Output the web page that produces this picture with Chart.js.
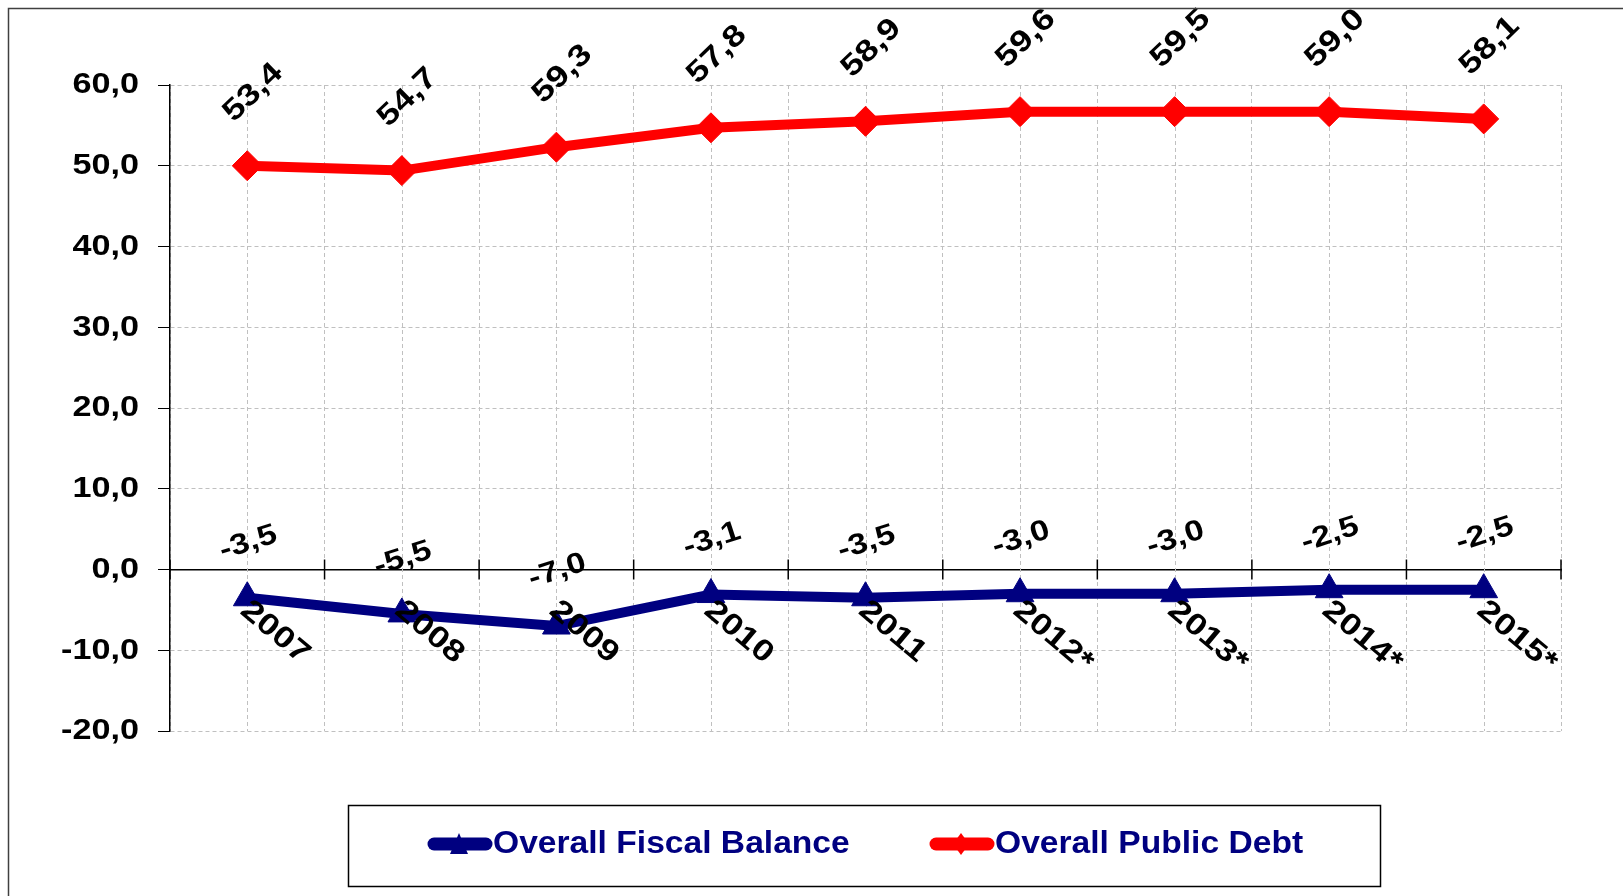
<!DOCTYPE html>
<html>
<head>
<meta charset="utf-8">
<script src="https://cdn.jsdelivr.net/npm/chart.js@4"></script>
<style>
  html, body { margin: 0; padding: 0; background: #fff; }
  #wrap { width: 1623px; height: 896px; position: relative; }
</style>
</head>
<body>
<div id="wrap"><canvas id="fiscalChart"></canvas></div>
<script>
const years = ['2007', '2008', '2009', '2010', '2011', '2012*', '2013*', '2014*', '2015*'];
const fiscalBalance = [-3.5, -5.5, -7.0, -3.1, -3.5, -3.0, -3.0, -2.5, -2.5];
// debt markers sit lower than their printed labels in the original, keep both
const publicDebt = [50.0, 49.4, 52.3, 54.7, 55.5, 56.7, 56.7, 56.7, 55.8];
const publicDebtLabels = ['53,4', '54,7', '59,3', '57,8', '58,9', '59,6', '59,5', '59,0', '58,1'];
const yMin = -20;
const yMax = 60;
const yStep = 10;

const family = '"Liberation Sans", Arial, sans-serif';
const navy = '#000080';
const red = '#ff0000';

function fmt(v) {
  return v.toFixed(1).replace('.', ',');
}

// text in the original is a bit wider than plain Arial bold
function drawText(ctx, text, x, y, angle, size, sx, align, baseline) {
  ctx.save();
  ctx.translate(x, y);
  ctx.rotate(angle);
  ctx.scale(sx, 1);
  ctx.font = 'bold ' + size + 'px ' + family;
  ctx.textAlign = align;
  ctx.textBaseline = baseline;
  ctx.fillText(text, 0, 0);
  ctx.restore();
}

const extras = {
  id: 'extras',
  beforeDatasetsDraw(chart) {
    const { ctx, chartArea, scales: { x, y } } = chart;
    ctx.save();
    // dashed lines through the category centres
    ctx.strokeStyle = '#c0c0c0';
    ctx.lineWidth = 1;
    ctx.setLineDash([4, 3]);
    years.forEach((yr, i) => {
      const px = Math.round(x.getPixelForValue(i)) + 0.5;
      ctx.beginPath();
      ctx.moveTo(px, chartArea.top);
      ctx.lineTo(px, chartArea.bottom);
      ctx.stroke();
    });
    // tick marks crossing the zero line
    ctx.setLineDash([]);
    ctx.strokeStyle = '#000';
    ctx.lineWidth = 1.5;
    const zy = y.getPixelForValue(0);
    for (let i = 0; i <= years.length; i++) {
      const px = x.getPixelForValue(i - 0.5);
      ctx.beginPath();
      ctx.moveTo(px, zy - 10);
      ctx.lineTo(px, zy + 10);
      ctx.stroke();
    }
    ctx.restore();
  },
  afterDatasetsDraw(chart) {
    const { ctx, scales: { x, y } } = chart;
    ctx.save();
    ctx.fillStyle = '#000';
    // y tick labels
    y.ticks.forEach(t => {
      drawText(ctx, fmt(t.value), y.right - 31, y.getPixelForValue(t.value), 0, 30, 1.14, 'right', 'middle');
    });
    publicDebt.forEach((v, i) => {
      drawText(ctx, publicDebtLabels[i], x.getPixelForValue(i) + 6, y.getPixelForValue(v) - 73,
        -44 * Math.PI / 180, 30, 1.2, 'center', 'middle');
    });
    fiscalBalance.forEach((v, i) => {
      drawText(ctx, fmt(v), x.getPixelForValue(i) + 1, y.getPixelForValue(v) - 55,
        -18 * Math.PI / 180, 29, 1.18, 'center', 'middle');
    });
    // year labels, turned down to the right
    const zy = y.getPixelForValue(0);
    years.forEach((yr, i) => {
      drawText(ctx, yr, x.getPixelForValue(i) - 3, zy + 37, 40 * Math.PI / 180, 30, 1.2, 'left', 'middle');
    });
    ctx.restore();
  },
  afterDraw(chart) {
    const { ctx } = chart;
    ctx.save();
    // outer frame
    ctx.strokeStyle = '#404040';
    ctx.lineWidth = 1.5;
    ctx.strokeRect(8.5, 8.5, 1700, 1000);
    // legend box
    ctx.strokeStyle = '#000';
    ctx.lineWidth = 1.5;
    ctx.strokeRect(348.5, 805.5, 1032, 81);
    const ly = 844;
    const items = [
      { label: chart.data.datasets[0].label, color: navy, x0: 428, shape: 'triangle' },
      { label: chart.data.datasets[1].label, color: red, x0: 930, shape: 'diamond' }
    ];
    items.forEach(it => {
      ctx.strokeStyle = it.color;
      ctx.fillStyle = it.color;
      ctx.lineWidth = 13;
      ctx.lineCap = 'round';
      ctx.beginPath();
      ctx.moveTo(it.x0 + 6, ly);
      ctx.lineTo(it.x0 + 58, ly);
      ctx.stroke();
      const cx = it.x0 + 31;
      ctx.beginPath();
      if (it.shape === 'triangle') {
        ctx.moveTo(cx, ly - 11);
        ctx.lineTo(cx + 9, ly + 10);
        ctx.lineTo(cx - 9, ly + 10);
      } else {
        ctx.moveTo(cx, ly - 11);
        ctx.lineTo(cx + 8, ly);
        ctx.lineTo(cx, ly + 11);
        ctx.lineTo(cx - 8, ly);
      }
      ctx.closePath();
      ctx.fill();
      ctx.fillStyle = navy;
      drawText(ctx, it.label, it.x0 + 65, ly, 0, 32, 1.05, 'left', 'middle');
    });
    ctx.restore();
  }
};

new Chart(document.getElementById('fiscalChart'), {
  type: 'line',
  data: {
    labels: years,
    datasets: [
      {
        label: 'Overall Fiscal Balance',
        data: fiscalBalance,
        borderColor: navy,
        backgroundColor: navy,
        borderWidth: 10,
        pointStyle: 'triangle',
        pointRadius: 16,
        pointHoverRadius: 16,
        pointBorderWidth: 1,
        tension: 0,
        fill: false
      },
      {
        label: 'Overall Public Debt',
        data: publicDebt,
        borderColor: red,
        backgroundColor: red,
        borderWidth: 10,
        pointStyle: 'rectRot',
        pointRadius: 15,
        pointHoverRadius: 15,
        pointBorderWidth: 1,
        tension: 0,
        fill: false
      }
    ]
  },
  options: {
    responsive: true,
    maintainAspectRatio: false,
    animation: false,
    layout: { padding: { left: 0, top: 85, right: 62, bottom: 165 } },
    plugins: {
      legend: { display: false },
      tooltip: { enabled: false }
    },
    scales: {
      x: {
        type: 'category',
        position: { y: 0 },
        offset: true,
        grid: { offset: true, color: '#c0c0c0', lineWidth: 1, drawTicks: false },
        border: { color: '#000', width: 1.5, dash: [4, 3] },
        ticks: { display: false }
      },
      y: {
        min: yMin,
        max: yMax,
        ticks: {
          stepSize: yStep,
          callback: v => fmt(v),
          color: 'rgba(0,0,0,0)',
          font: { family: family, size: 29, weight: 'bold' },
          padding: 17
        },
        grid: {
          color: c => (c.tick && c.tick.value === 0 ? 'rgba(0,0,0,0)' : '#c0c0c0'),
          tickColor: '#000',
          tickLength: 12,
          lineWidth: 1
        },
        border: { color: '#000', width: 1.5, dash: [4, 3] },
        afterFit(scale) { scale.width = 170; }
      }
    }
  },
  plugins: [extras]
});
</script>
</body>
</html>
